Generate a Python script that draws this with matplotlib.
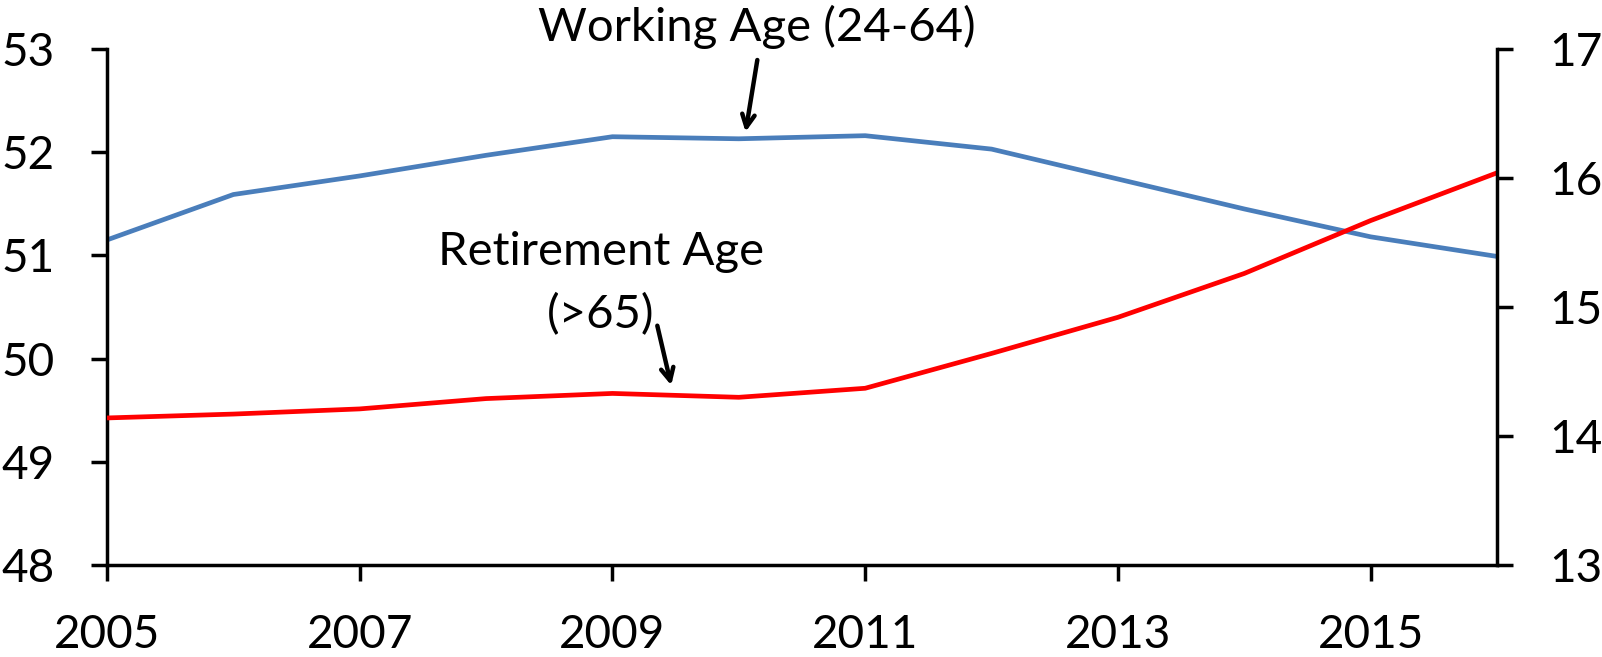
import matplotlib
matplotlib.use("Agg")
import matplotlib.pyplot as plt

years = [2005, 2006, 2007, 2008, 2009, 2010, 2011, 2012, 2013, 2014, 2015, 2016]
working_age = [51.15, 51.59, 51.77, 51.97, 52.15, 52.13, 52.16, 52.03, 51.74, 51.45, 51.18, 50.99]
retirement_age = [14.14, 14.17, 14.21, 14.29, 14.33, 14.30, 14.37, 14.64, 14.92, 15.26, 15.67, 16.04]
x_ticks = [2005, 2007, 2009, 2011, 2013, 2015]
left_ticks = [48, 49, 50, 51, 52, 53]
right_ticks = [13, 14, 15, 16, 17]

FONT = "Lato"
plt.rcParams["font.family"] = [FONT, "DejaVu Sans"]

fig = plt.figure(figsize=(16.02, 6.57), dpi=100)
ax = fig.add_axes([107 / 1602, 1 - 565 / 657, (1497 - 107) / 1602, (565 - 49) / 657])
ax2 = ax.twinx()

ax.plot(years, working_age, color="#4A7EBB", lw=3.4, solid_capstyle="butt")
ax2.plot(years, retirement_age, color="#FF0000", lw=3.4, solid_capstyle="butt")

ax.set_xlim(2005, 2016)
ax.set_ylim(48, 53)
ax2.set_ylim(13, 17)
ax.set_xticks(x_ticks)
ax.set_xticklabels([str(t) for t in x_ticks])
ax.set_yticks(left_ticks)
ax2.set_yticks(right_ticks)

for a in (ax, ax2):
    a.spines["top"].set_visible(False)
    for s in a.spines.values():
        s.set_linewidth(2.5)
        s.set_color("black")
    a.tick_params(width=2.5, length=11.5, labelsize=33, colors="black")
ax.tick_params(axis="y", pad=26)
ax.tick_params(axis="x", pad=24)
ax2.tick_params(axis="y", pad=26)
ax2.spines["left"].set_visible(False)
ax2.spines["bottom"].set_visible(False)
ax.spines["right"].set_visible(False)

ANN_SIZE = 34
# Annotations
ax.text(2010.14, 53.08, "Working Age (24-64)", ha="center", va="baseline",
        fontsize=ANN_SIZE, clip_on=False)
ax.annotate("", xy=(2010.05, 52.17), xytext=(2010.15, 52.92),
            arrowprops=dict(arrowstyle="->,head_length=0.9,head_width=0.45",
                            lw=3.2, color="black"),
            annotation_clip=False)

ax.text(2008.91, 50.907, "Retirement Age", ha="center", va="baseline", fontsize=ANN_SIZE)
ax.text(2008.91, 50.297, "(>65)", ha="center", va="baseline", fontsize=ANN_SIZE)
ax.annotate("", xy=(2009.47, 49.715), xytext=(2009.35, 50.345),
            arrowprops=dict(arrowstyle="->,head_length=0.9,head_width=0.45",
                            lw=3.2, color="black"),
            annotation_clip=False)

fig.savefig("out.png", dpi=100)
